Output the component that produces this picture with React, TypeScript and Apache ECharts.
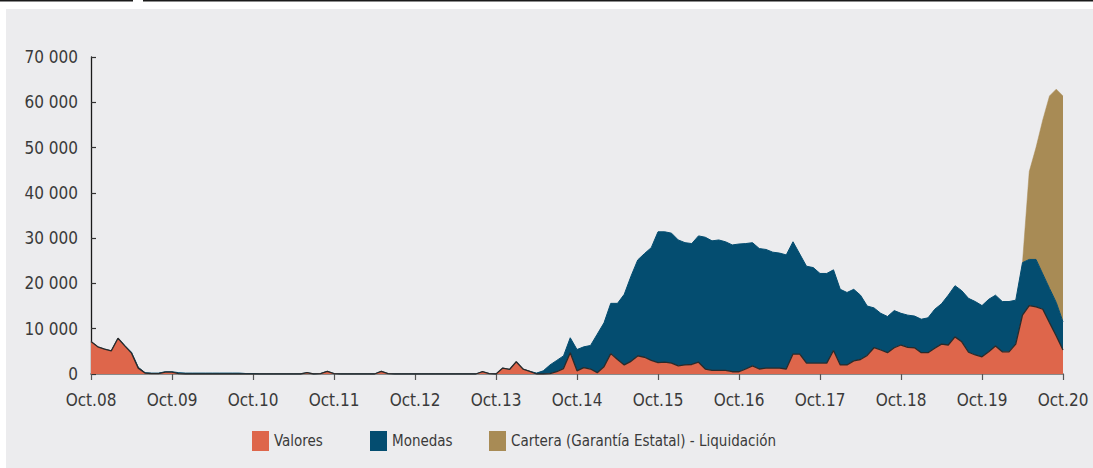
import React, { useEffect, useRef } from "react";
import * as echarts from "echarts";

const MONTHS = ["Oct", "Nov", "Dic", "Ene", "Feb", "Mar", "Abr", "May", "Jun", "Jul", "Ago", "Sep"];
const YEARS_START = 8;
const MONTH_COUNT = 145;

// one row per year, Oct -> Sep
const valores = [
  7200, 6000, 5500, 5100, 7900, 6200, 4600, 1300, 200, 100, 100, 400,
  400, 100, 0, 0, 0, 0, 0, 0, 0, 0, 0, 0,
  0, 0, 0, 0, 0, 0, 0, 0, 300, 0, 100, 600,
  100, 0, 0, 0, 0, 0, 0, 600, 100, 0, 0, 0,
  0, 0, 0, 0, 0, 0, 0, 0, 0, 0, 500, 100,
  0, 1300, 1000, 2700, 1100, 600, 0, 0, 100, 500, 1200, 4700,
  700, 1400, 1100, 300, 1600, 4500, 3200, 2000, 2800, 4000, 3700, 3000,
  2500, 2600, 2400, 1800, 2000, 2100, 2600, 1100, 800, 800, 800, 500,
  500, 1100, 1800, 1100, 1300, 1300, 1300, 1100, 4400, 4400, 2400, 2400,
  2400, 2400, 5200, 2000, 2000, 2900, 3200, 4100, 5800, 5300, 4700, 5800,
  6400, 5900, 5800, 4700, 4700, 5700, 6600, 6400, 8200, 7100, 4800, 4200,
  3800, 4900, 6200, 4900, 4900, 6600, 13000, 15100, 14800, 14300, 11300, 8400,
  5300,
];

const monedas = [
  0, 0, 0, 0, 0, 100, 200, 200, 100, 100, 100, 100,
  100, 200, 200, 200, 200, 200, 200, 200, 200, 200, 200, 100,
  100, 0, 0, 0, 0, 0, 0, 0, 0, 0, 0, 0,
  0, 0, 0, 0, 0, 0, 0, 0, 0, 0, 0, 0,
  0, 0, 0, 0, 0, 0, 0, 0, 0, 0, 0, 0,
  0, 0, 0, 0, 0, 0, 200, 700, 1900, 2500, 2800, 3300,
  4700, 4600, 5200, 8500, 9700, 11100, 12400, 15600, 18800, 21200, 22900, 24900,
  28900, 28800, 28700, 27800, 27000, 26700, 27900, 29100, 28600, 28800, 28400, 28000,
  28200, 27700, 27200, 26600, 26200, 25600, 25400, 25200, 24800, 22100, 21400, 21100,
  19800, 19800, 17800, 16700, 16000, 15800, 14200, 10900, 8800, 8100, 8000, 8200,
  7000, 7100, 7000, 7400, 7700, 8600, 8900, 11000, 11300, 11300, 11900, 11800,
  11300, 11600, 11200, 11100, 11100, 9700, 11600, 10200, 10500, 7800, 7600, 7400,
  6200,
];

const N = null;
const cartera = [
  N, N, N, N, N, N, N, N, N, N, N, N,
  N, N, N, N, N, N, N, N, N, N, N, N,
  N, N, N, N, N, N, N, N, N, N, N, N,
  N, N, N, N, N, N, N, N, N, N, N, N,
  N, N, N, N, N, N, N, N, N, N, N, N,
  N, N, N, N, N, N, N, N, N, N, N, N,
  N, N, N, N, N, N, N, N, N, N, N, N,
  N, N, N, N, N, N, N, N, N, N, N, N,
  N, N, N, N, N, N, N, N, N, N, N, N,
  N, N, N, N, N, N, N, N, N, N, N, N,
  N, N, N, N, N, N, N, N, N, N, N, N,
  N, N, N, N, N, N, 0, 19400, 24700, 34000, 42500, 47100,
  49900,
];

const seriesNames = ["Valores", "Monedas", "Cartera (Garantía Estatal) - Liquidación"];
const colors = ["#de664b", "#044d70", "#a88b55"];

const categories: string[] = [];
for (let i = 0; i < MONTH_COUNT; i++) {
  const m = MONTHS[i % 12];
  const yr = YEARS_START + Math.floor((i + 9) / 12);
  categories.push(m + "." + String(yr).padStart(2, "0"));
}

const FONT = "'Liberation Sans Narrow', 'DejaVu Sans Condensed', 'Roboto', sans-serif";
const TEXT = "#3a3a3a";

export default function App() {
  const ref = useRef<HTMLDivElement>(null);
  useEffect(() => {
    document.body.style.margin = "0";
    const chart = echarts.init(ref.current!, null, { renderer: "svg" });
    const legendLefts = [247, 365, 484];
    chart.setOption({
      animation: false,
      textStyle: { fontFamily: FONT },
      graphic: [
        { type: "rect", left: 6, top: 9, z: -10, silent: true, shape: { width: 1087, height: 459 }, style: { fill: "#ececee" } },
        { type: "line", silent: true, shape: { x1: 0, y1: 0.7, x2: 133, y2: 0.7 }, style: { stroke: "#1a1a1a", lineWidth: 1.4 } },
        { type: "line", silent: true, shape: { x1: 143, y1: 0.7, x2: 1093, y2: 0.7 }, style: { stroke: "#1a1a1a", lineWidth: 1.4 } },
      ],
      legend: seriesNames.map((name, i) => ({
        data: [{ name, itemStyle: { color: colors[i], borderWidth: 0 } }],
        left: legendLefts[i],
        top: 426,
        icon: "rect",
        itemWidth: 17,
        itemHeight: 20,
        selectedMode: false,
        textStyle: { fontFamily: FONT, fontSize: 15, color: TEXT },
      })),
      grid: { left: 91, right: 30, top: 57, bottom: 94, containLabel: false },
      xAxis: {
        type: "category",
        data: categories,
        boundaryGap: false,
        axisLine: { lineStyle: { color: "#8a8a8a", width: 2 } },
        axisTick: {
          show: true,
          interval: (idx: number) => idx % 12 === 0,
          length: 6,
          lineStyle: { color: "#555", width: 1.2 },
        },
        axisLabel: {
          interval: (idx: number) => idx % 12 === 0,
          margin: 17,
          fontSize: 17,
          color: TEXT,
          fontFamily: FONT,
        },
        splitLine: { show: false },
      },
      yAxis: {
        type: "value",
        min: 0,
        max: 70000,
        interval: 10000,
        axisLine: { show: true, lineStyle: { color: "#1a1a1a", width: 1.3 } },
        axisTick: { show: true, inside: true, length: 5, lineStyle: { color: "#333", width: 1.2 } },
        axisLabel: {
          margin: 13,
          fontSize: 17,
          color: TEXT,
          fontFamily: FONT,
          formatter: (v: number) => String(v).replace(/\B(?=(\d{3})+(?!\d))/g, " "),
        },
        splitLine: { show: false },
      },
      series: [
        {
          name: seriesNames[0],
          type: "line",
          stack: "total",
          data: valores,
          symbol: "none",
          z: 4,
          itemStyle: { color: colors[0] },
          lineStyle: { color: "#2a2a2a", width: 1.3 },
          areaStyle: { color: colors[0], opacity: 1 },
        },
        {
          name: seriesNames[1],
          type: "line",
          stack: "total",
          data: monedas,
          symbol: "none",
          z: 3,
          itemStyle: { color: colors[1] },
          lineStyle: { color: colors[1], width: 1 },
          areaStyle: { color: colors[1], opacity: 1 },
        },
        {
          name: seriesNames[2],
          type: "line",
          stack: "total",
          data: cartera,
          symbol: "none",
          z: 2,
          itemStyle: { color: colors[2] },
          lineStyle: { color: colors[2], width: 0.5 },
          areaStyle: { color: colors[2], opacity: 1 },
        },
      ],
    });
    return () => chart.dispose();
  }, []);
  return <div ref={ref} style={{ position: "absolute", left: 0, top: 0, width: 1093, height: 468 }} />;
}
